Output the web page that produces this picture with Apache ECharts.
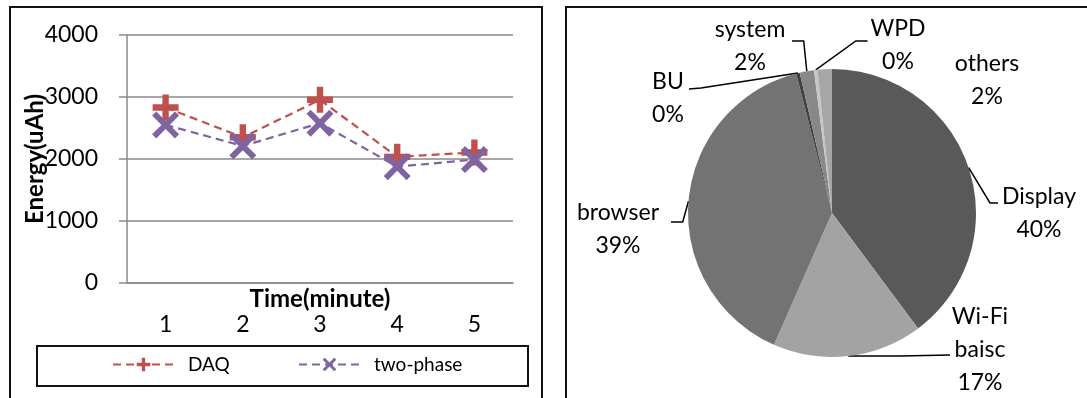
<!DOCTYPE html>
<html>
<head>
<meta charset="utf-8">
<script src="https://cdn.jsdelivr.net/npm/echarts@6/dist/echarts.min.js"></script>
<style>
  html, body { margin: 0; padding: 0; background: #ffffff; }
  #chart { width: 1087px; height: 398px; }
</style>
</head>
<body>
<div id="chart"></div>
<script>
// Energy per minute for the two schemes
const minutes = ['1', '2', '3', '4', '5'];
const daqEnergy = [2830, 2350, 2955, 2035, 2105];
const twoPhaseEnergy = [2550, 2210, 2578, 1876, 1990];
const energyAxisMin = 0;
const energyAxisMax = 4000;
const energyAxisStep = 1000;

// Energy breakdown by component (percent)
const componentNames = ['Display', 'Wi-Fi baisc', 'browser', 'BU', 'system', 'WPD', 'others'];
const componentShares = [39.8, 16.8, 39.4, 0.4, 1.6, 0.4, 1.6];

// Styling
const FONT = 'Lato, "Open Sans", sans-serif';
const sliceColors = ['#595959', '#a3a3a3', '#737373', '#3f3f3f', '#888888', '#c6c6c6', '#a6a6a6'];
const GRID_GRAY = '#8a8a8a';

// Label anchors and leader-line bends for the pie labels
const pieLabelSpots = {
  'Display':     { x: 1039, y: 213, line: [[990, 203], [998, 203]] },
  'Wi-Fi baisc': { x: 980,  y: 350, line: [[900, 356], [950, 355]] },
  'browser':     { x: 618,  y: 229, line: [[682.7, 222], [671, 222]] },
  'BU':          { x: 668,  y: 98,  line: [[701, 88], [689, 89]] },
  'system':      { x: 750,  y: 46,  line: [[803.7, 41], [792, 41]] },
  'WPD':         { x: 898,  y: 45,  line: [[855.8, 41], [867.6, 41]] },
  'others':      { x: 987,  y: 80,  line: null }
};

const plusSymbol = 'path://M-3.2,-13 L3.2,-13 L3.2,-3.2 L13,-3.2 L13,3.2 L3.2,3.2 L3.2,13 L-3.2,13 L-3.2,3.2 L-13,3.2 L-13,-3.2 L-3.2,-3.2 Z';
const crossSymbol = 'path://M-13,-9 L-9,-13 L0,-4 L9,-13 L13,-9 L4,0 L13,9 L9,13 L0,4 L-9,13 L-13,9 L-4,0 Z';

const pieData = componentNames.map((name, i) => {
  const item = { name: name, value: componentShares[i], itemStyle: { color: sliceColors[i] } };
  if (!pieLabelSpots[name].line) item.labelLine = { show: false };
  return item;
});

const chart = echarts.init(document.getElementById('chart'), null, { renderer: 'canvas' });

const legendBase = {
  orient: 'horizontal',
  top: 355,
  itemWidth: 61,
  itemHeight: 17,
  padding: 0,
  textStyle: { fontFamily: FONT, fontSize: 19, color: '#000', padding: [0, 0, 0, 9] },
  selectedMode: false
};

chart.setOption({
  animation: false,
  backgroundColor: '#ffffff',
  graphic: [
    { type: 'rect', shape: { x: 10, y: 7, width: 532, height: 400 }, style: { fill: 'none', stroke: '#111', lineWidth: 2 }, silent: true },
    { type: 'rect', shape: { x: 566, y: 7, width: 530, height: 400 }, style: { fill: 'none', stroke: '#111', lineWidth: 2 }, silent: true },
    { type: 'rect', shape: { x: 37, y: 346, width: 491, height: 40 }, style: { fill: 'none', stroke: '#111', lineWidth: 2 }, silent: true }
  ],
  legend: [
    Object.assign({}, legendBase, { left: 112, data: ['DAQ'] }),
    Object.assign({}, legendBase, { left: 298, data: ['two-phase'] })
  ],
  grid: { left: 127, top: 35, width: 386, height: 248, containLabel: false },
  xAxis: {
    type: 'category',
    data: minutes,
    boundaryGap: true,
    name: 'Time(minute)',
    nameLocation: 'middle',
    nameGap: 4,
    nameMoveOverlap: false,
    nameTextStyle: { fontFamily: FONT, fontSize: 24, fontWeight: 'bold', color: '#000', verticalAlign: 'top' },
    axisLine: { show: true, lineStyle: { color: GRID_GRAY, width: 1.5 } },
    axisTick: { show: false },
    axisLabel: { fontFamily: FONT, fontSize: 23, color: '#000', margin: 30 }
  },
  yAxis: {
    type: 'value',
    min: energyAxisMin,
    max: energyAxisMax,
    interval: energyAxisStep,
    name: 'Energy(uAh)',
    nameLocation: 'middle',
    nameGap: 80,
    nameMoveOverlap: false,
    nameTextStyle: { fontFamily: FONT, fontSize: 24, fontWeight: 'bold', color: '#000' },
    axisLine: { show: true, lineStyle: { color: GRID_GRAY, width: 1.5 } },
    axisTick: { show: true, length: 8, lineStyle: { color: GRID_GRAY, width: 1.5 } },
    axisLabel: { fontFamily: FONT, fontSize: 23, color: '#000', margin: 29, formatter: v => String(v) },
    splitLine: { show: true, lineStyle: { color: GRID_GRAY, width: 1.5 } }
  },
  series: [
    {
      name: 'DAQ',
      type: 'line',
      data: daqEnergy,
      symbol: plusSymbol,
      symbolSize: 26,
      color: '#C0504D',
      itemStyle: { color: '#C0504D' },
      lineStyle: { color: '#C0504D', width: 2.2, type: [8, 5] },
      z: 2
    },
    {
      name: 'two-phase',
      type: 'line',
      data: twoPhaseEnergy,
      symbol: crossSymbol,
      symbolSize: 27,
      color: '#8064A2',
      itemStyle: { color: '#8064A2' },
      lineStyle: { color: '#8064A2', width: 2.2, type: [8, 5] },
      z: 3
    },
    {
      type: 'pie',
      center: [832, 213],
      radius: 144,
      startAngle: 90,
      clockwise: true,
      percentPrecision: 0,
      avoidLabelOverlap: false,
      silent: true,
      data: pieData,
      label: {
        show: true,
        position: 'outside',
        fontFamily: FONT,
        fontSize: 23,
        lineHeight: 33,
        color: '#000',
        align: 'center',
        formatter: p => p.name.replace(' ', '\n') + '\n' + p.percent + '%'
      },
      labelLine: { show: true, smooth: false, lineStyle: { color: '#000', width: 1.5 } },
      labelLayout: function (params) {
        const name = componentNames[params.dataIndex];
        const spot = pieLabelSpots[name];
        const out = { x: spot.x, y: spot.y, align: 'center', verticalAlign: 'middle', hideOverlap: false, moveOverlap: null };
        if (spot.line && params.labelLinePoints) {
          const start = params.labelLinePoints[0];
          out.labelLinePoints = [[start[0], start[1]], spot.line[0], spot.line[1]];
        }
        return out;
      }
    }
  ]
});
</script>
</body>
</html>
